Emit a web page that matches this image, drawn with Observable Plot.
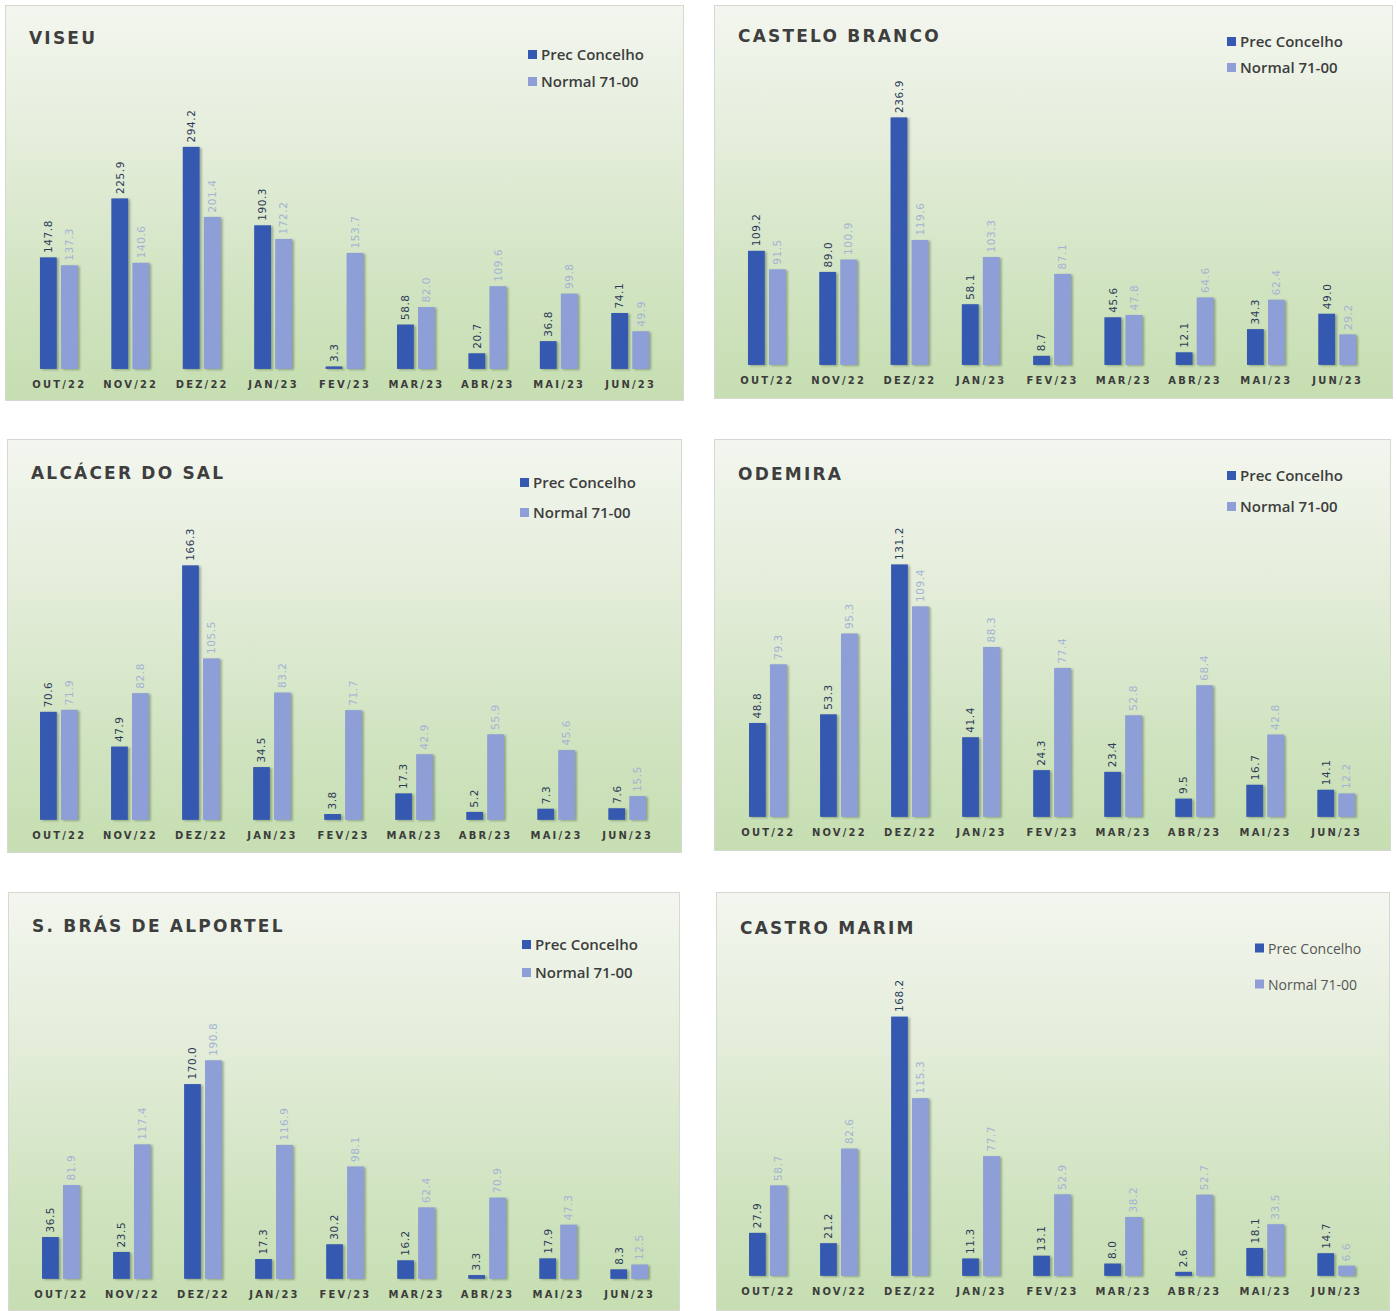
<!DOCTYPE html>
<html><head><meta charset="utf-8">
<script src="https://cdn.jsdelivr.net/npm/d3@7"></script>
<script src="https://cdn.jsdelivr.net/npm/@observablehq/plot@0.6"></script>
<style>
body{margin:0;background:#fff;width:1397px;height:1311px;position:relative;overflow:hidden;}
.panel{position:absolute;box-sizing:border-box;border:1px solid #d6d9d3;
 background:linear-gradient(to bottom,#f3f6ef 0%,#e4edda 35%,#cfe3bf 75%,#c6deb1 100%);overflow:hidden;}
.panel svg{position:absolute;left:0;top:0;background:transparent;}
.title{position:absolute;font-family:"DejaVu Sans",sans-serif;font-weight:bold;font-size:17px;letter-spacing:2.2px;color:#3e3e3e;white-space:nowrap;}
.legend{position:absolute;font-family:"Open Sans",sans-serif;font-weight:600;font-size:15px;color:#3d3d3d;white-space:nowrap;}
.legend.light{font-weight:400;color:#555;font-size:14px;}
.legend .row{position:absolute;left:0;display:flex;align-items:center;transform:translateY(-50%);}
.legend .sw{width:9px;height:9px;margin-right:4px;display:inline-block;}
.panel g[aria-label="bar"] rect{filter:drop-shadow(2px 1px 1.2px rgba(30,50,30,0.35));}
</style>
</head><body>
<script>
const months = ["OUT/22","NOV/22","DEZ/22","JAN/23","FEV/23","MAR/23","ABR/23","MAI/23","JUN/23"];
const seriesNames = ["Prec Concelho","Normal 71-00"];
const seriesColors = ["#3558b0","#8d9fd6"];
const labelColors = ["#2c3a58","#a3b3d4"];

const viseuPrec   = [147.8, 225.9, 294.2, 190.3, 3.3, 58.8, 20.7, 36.8, 74.1];
const viseuNormal = [137.3, 140.6, 201.4, 172.2, 153.7, 82.0, 109.6, 99.8, 49.9];
const casteloPrec   = [109.2, 89.0, 236.9, 58.1, 8.7, 45.6, 12.1, 34.3, 49.0];
const casteloNormal = [91.5, 100.9, 119.6, 103.3, 87.1, 47.8, 64.6, 62.4, 29.2];
const alcacerPrec   = [70.6, 47.9, 166.3, 34.5, 3.8, 17.3, 5.2, 7.3, 7.6];
const alcacerNormal = [71.9, 82.8, 105.5, 83.2, 71.7, 42.9, 55.9, 45.6, 15.5];
const odemiraPrec   = [48.8, 53.3, 131.2, 41.4, 24.3, 23.4, 9.5, 16.7, 14.1];
const odemiraNormal = [79.3, 95.3, 109.4, 88.3, 77.4, 52.8, 68.4, 42.8, 12.2];
const sbrasPrec   = [36.5, 23.5, 170.0, 17.3, 30.2, 16.2, 3.3, 17.9, 8.3];
const sbrasNormal = [81.9, 117.4, 190.8, 116.9, 98.1, 62.4, 70.9, 47.3, 12.5];
const castroPrec   = [27.9, 21.2, 168.2, 11.3, 13.1, 8.0, 2.6, 18.1, 14.7];
const castroNormal = [58.7, 82.6, 115.3, 77.7, 52.9, 38.2, 52.7, 33.5, 6.6];

const panels = [
 {title:"VISEU", prec:viseuPrec, normal:viseuNormal, left:5, top:5, w:679, h:396, base:364, ppu:0.757, c0:53, c1:626, ty:33, lx:522, ly:[48,75]},
 {title:"CASTELO BRANCO", prec:casteloPrec, normal:casteloNormal, left:714, top:5, w:679, h:394, base:360, ppu:1.048, c0:52, c1:624, ty:31, lx:512, ly:[35,61]},
 {title:"ALCÁCER DO SAL", prec:alcacerPrec, normal:alcacerNormal, left:7, top:439, w:675, h:414, base:381, ppu:1.535, c0:51, c1:621, ty:34, lx:512, ly:[42,72]},
 {title:"ODEMIRA", prec:odemiraPrec, normal:odemiraNormal, left:714, top:439, w:677, h:412, base:378, ppu:1.93, c0:53, c1:623, ty:35, lx:512, ly:[35,66]},
 {title:"S. BRÁS DE ALPORTEL", prec:sbrasPrec, normal:sbrasNormal, left:8, top:892, w:672, h:419, base:387, ppu:1.149, c0:52, c1:622, ty:34, lx:513, ly:[51,79]},
 {title:"CASTRO MARIM", prec:castroPrec, normal:castroNormal, left:716, top:892, w:674, h:419, base:384, ppu:1.546, c0:51, c1:621, ty:36, lx:538, ly:[55,91], light:true}
];

const PI = 0.47;
for (const p of panels) {
  const div = document.createElement("div");
  div.className = "panel";
  Object.assign(div.style, {left:p.left+"px", top:p.top+"px", width:p.w+"px", height:p.h+"px"});
  document.body.appendChild(div);

  const data = months.flatMap((m, i) => [
    {month:m, series:seriesNames[0], value:p.prec[i]},
    {month:m, series:seriesNames[1], value:p.normal[i]}
  ]);
  const step = (p.c1 - p.c0) / (months.length - 1);
  const r0 = p.c0 - step * (1 - PI) / 2;
  const r1 = r0 + step * (months.length - PI);
  const mt = 40;
  const yMax = (p.base - mt) / p.ppu;

  const chart = Plot.plot({
    width: p.w, height: p.h,
    marginLeft: 0, marginRight: 0, marginTop: mt, marginBottom: p.h - p.base,
    style: {background: "transparent", overflow: "visible"},
    facet: {data, x: "month"},
    fx: {domain: months, range: [r0, r1], round: false, paddingInner: PI, paddingOuter: 0, label: null, tickSize: 0, tickPadding: 12, axis: "bottom"},
    x: {domain: seriesNames, axis: null, round: false, paddingInner: 0.2, paddingOuter: 0},
    y: {domain: [0, yMax], axis: null},
    color: {domain: seriesNames, range: seriesColors},
    marks: [
      Plot.barY(data, {x: "series", y: "value", fill: "series"}),
      Plot.text(data, {x: "series", y: "value", text: d => d.value.toFixed(1),
        rotate: -90, textAnchor: "start", dy: -5, fontSize: 10.5,
        fill: d => labelColors[seriesNames.indexOf(d.series)]})
    ]
  });
  div.appendChild(chart);
  d3.select(chart).selectAll('g[aria-label^="fx-axis"] text')
    .attr("font-family", "DejaVu Sans, sans-serif")
    .attr("font-weight", "bold")
    .attr("font-size", 10)
    .attr("letter-spacing", "2.2px")
    .attr("fill", "#3c3c3c");
  d3.select(chart).selectAll('g[aria-label^="fx-axis"]').attr("font-size", 10);
  d3.select(chart).selectAll('g[aria-label="text"] text')
    .attr("font-family", "DejaVu Sans, sans-serif")
    .attr("letter-spacing", "0.6px");

  const t = document.createElement("div");
  t.className = "title";
  t.textContent = p.title;
  Object.assign(t.style, {left:"23px", top:(p.ty - 11)+"px"});
  div.appendChild(t);

  const lg = document.createElement("div");
  lg.className = "legend" + (p.light ? " light" : "");
  Object.assign(lg.style, {left:p.lx+"px", top:"0px"});
  seriesNames.forEach((s, i) => {
    const r = document.createElement("div");
    r.className = "row";
    r.style.top = p.ly[i] + "px";
    const sw = document.createElement("span");
    sw.className = "sw";
    sw.style.background = seriesColors[i];
    r.appendChild(sw);
    r.appendChild(document.createTextNode(s));
    lg.appendChild(r);
  });
  div.appendChild(lg);
}
</script>
</body></html>
